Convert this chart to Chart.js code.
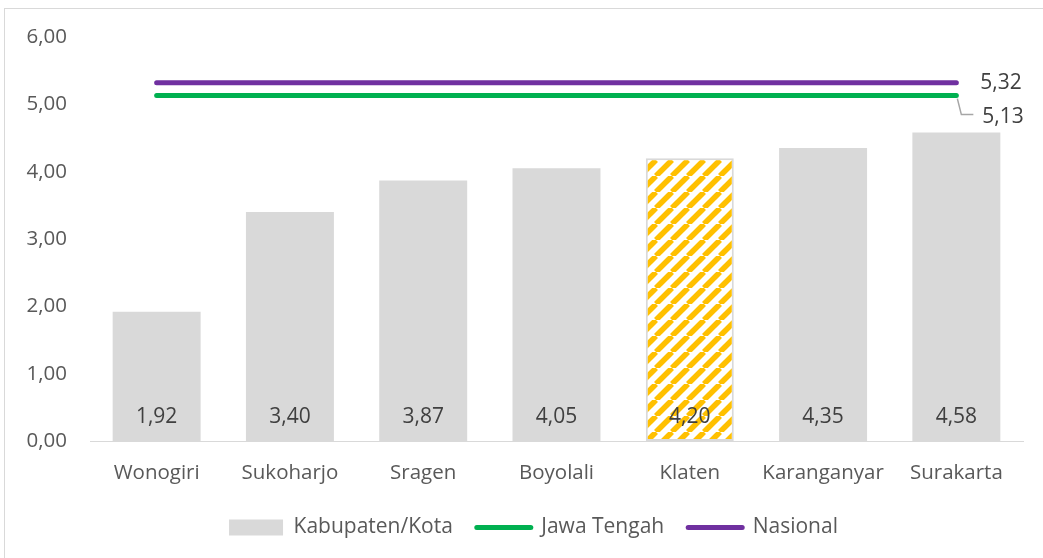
<!DOCTYPE html>
<html>
<head>
<meta charset="utf-8">
<script src="https://cdn.jsdelivr.net/npm/chart.js@4.4.1/dist/chart.umd.min.js"></script>
<style>
    body { margin: 0; background: #fff; }
    #wrap { position: relative; width: 1043px; height: 558px; overflow: hidden; }
    #frame { position: absolute; left: 4px; top: 8px; width: 1100px; height: 600px;
             border-left: 1px solid #d9d9d9; border-top: 1px solid #d9d9d9; }
    canvas { position: absolute; left: 0; top: 0; }
</style>
</head>
<body>
<div id="wrap">
    <div id="frame"></div>
    <canvas id="chart"></canvas>
</div>
<script>
// 数据
const categories = ['Wonogiri', 'Sukoharjo', 'Sragen', 'Boyolali', 'Klaten', 'Karanganyar', 'Surakarta'];
const kabupatenKota = [1.92, 3.40, 3.87, 4.05, 4.20, 4.35, 4.58];
const jawaTengah = [5.13, 5.13, 5.13, 5.13, 5.13, 5.13, 5.13];
const nasional = [5.32, 5.32, 5.32, 5.32, 5.32, 5.32, 5.32];
const yTicks = [0, 1, 2, 3, 4, 5, 6];

const FONT = "'Open Sans', sans-serif";
const TICK_FS = 20.5;
const FS = 21;
const fmt = v => v.toFixed(2).replace('.', ',');

// 斜线填充 (Klaten)
function stripePattern() {
    const s = 16;
    const c = document.createElement('canvas');
    c.width = s; c.height = s;
    const g = c.getContext('2d');
    g.fillStyle = '#ffffff';
    g.fillRect(0, 0, s, s);
    g.strokeStyle = '#FFC000';
    g.lineWidth = 5.5;
    for (const k of [-s, 0, s]) {
        g.beginPath();
        g.moveTo(k, s);
        g.lineTo(k + s, 0);
        g.stroke();
    }
    return g.createPattern(c, 'repeat');
}
const klatenFill = stripePattern();

const barColors = categories.map(c => c === 'Klaten' ? klatenFill : '#d9d9d9');
const barBorders = categories.map(c => c === 'Klaten' ? '#d9d9d9' : 'rgba(0,0,0,0)');
const barBorderWidths = categories.map(c => c === 'Klaten' ? 2 : 0);

// 数据标签 + 图例位置微调
const labelPlugin = {
    id: 'valueLabels',
    afterLayout(chart) {
        // 图例在原图中略偏右
        chart.legend.left += 20;
        chart.legend.right += 20;
    },
    afterDatasetsDraw(chart) {
        const ctx = chart.ctx;
        const y0 = chart.scales.y.getPixelForValue(0);
        ctx.save();
        ctx.fillStyle = '#404040';
        ctx.font = `${FS}px ${FONT}`;
        ctx.textAlign = 'center';
        ctx.textBaseline = 'middle';
        chart.getDatasetMeta(0).data.forEach((bar, i) => {
            ctx.fillText(fmt(kabupatenKota[i]), bar.x, y0 - 24);
        });

        // 线条末端标签
        const last = categories.length - 1;
        const pN = chart.getDatasetMeta(2).data[last];
        const pJ = chart.getDatasetMeta(1).data[last];
        ctx.textAlign = 'left';
        ctx.fillText(fmt(nasional[last]), pN.x + 24, pN.y);
        ctx.fillText(fmt(jawaTengah[last]), pJ.x + 26, pJ.y + 21);

        ctx.strokeStyle = '#a6a6a6';
        ctx.lineWidth = 1.5;
        ctx.beginPath();
        ctx.moveTo(pJ.x + 1, pJ.y + 3);
        ctx.lineTo(pJ.x + 5, pJ.y + 19);
        ctx.lineTo(pJ.x + 17, pJ.y + 19);
        ctx.stroke();
        ctx.restore();
    }
};

new Chart(document.getElementById('chart'), {
    type: 'bar',
    data: {
        labels: categories,
        datasets: [
            {
                label: 'Kabupaten/Kota',
                data: kabupatenKota,
                backgroundColor: barColors,
                borderColor: barBorders,
                borderWidth: barBorderWidths,
                borderSkipped: false,
                barPercentage: 0.66,
                categoryPercentage: 1,
                order: 3
            },
            {
                type: 'line',
                label: 'Jawa Tengah',
                data: jawaTengah,
                borderColor: '#00B050',
                backgroundColor: '#00B050',
                borderWidth: 5,
                borderCapStyle: 'round',
                pointRadius: 0,
                order: 2
            },
            {
                type: 'line',
                label: 'Nasional',
                data: nasional,
                borderColor: '#7030A0',
                backgroundColor: '#7030A0',
                borderWidth: 5,
                borderCapStyle: 'round',
                pointRadius: 0,
                order: 1
            }
        ]
    },
    options: {
        responsive: true,
        maintainAspectRatio: false,
        animation: false,
        layout: { padding: { left: 4, right: 20, top: 37, bottom: 10 } },
        scales: {
            x: {
                afterFit: scale => { scale.height = 52; },
                grid: { display: false, drawTicks: false },
                border: { display: true, color: '#d9d9d9', width: 1 },
                ticks: { color: '#595959', font: { family: FONT, size: TICK_FS }, padding: 20 }
            },
            y: {
                min: 0,
                max: 6,
                afterFit: scale => { scale.width = 86; },
                afterBuildTicks: scale => { scale.ticks = yTicks.map(v => ({ value: v })); },
                grid: { display: false, drawTicks: false },
                border: { display: false },
                ticks: {
                    color: '#595959',
                    font: { family: FONT, size: TICK_FS },
                    padding: 23,
                    callback: v => fmt(v)
                }
            }
        },
        plugins: {
            tooltip: { enabled: false },
            legend: {
                position: 'bottom',
                labels: {
                    color: '#595959',
                    font: { family: FONT, size: FS },
                    usePointStyle: true,
                    pointStyleWidth: 54,
                    boxHeight: 16,
                    padding: 24,
                    generateLabels: chart => chart.data.datasets.map((ds, i) => ({
                        text: ds.label,
                        datasetIndex: i,
                        pointStyle: i === 0 ? 'rect' : 'line',
                        fillStyle: i === 0 ? '#d9d9d9' : ds.borderColor,
                        strokeStyle: i === 0 ? '#d9d9d9' : ds.borderColor,
                        lineWidth: i === 0 ? 0 : 5,
                        lineCap: 'round',
                        fontColor: '#595959'
                    }))
                }
            }
        }
    },
    plugins: [labelPlugin]
});
</script>
</body>
</html>
